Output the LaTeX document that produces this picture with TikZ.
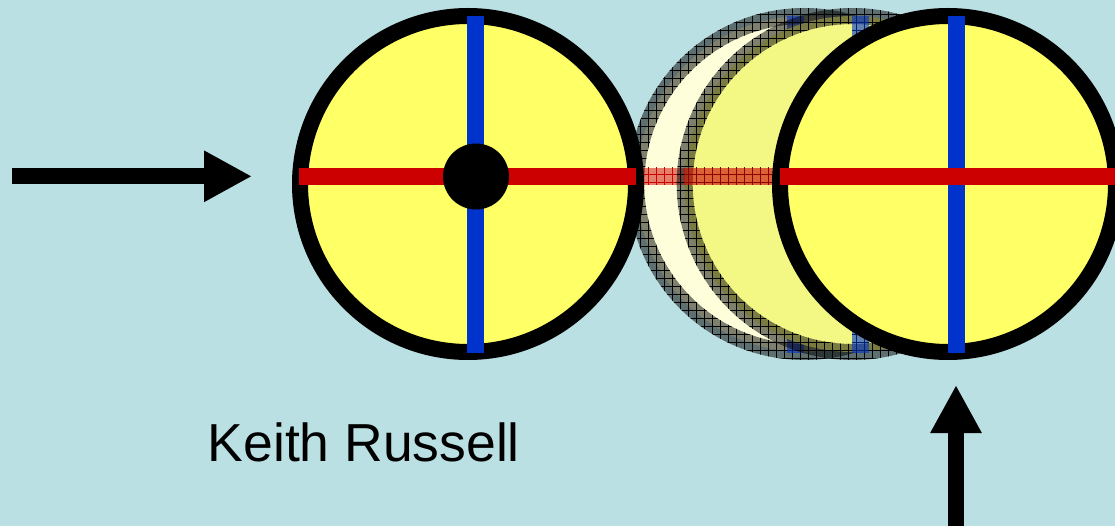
\documentclass[tikz,border=0pt]{standalone}
\usepackage{fontspec}
\setmainfont{Liberation Sans}
\usetikzlibrary{arrows.meta,patterns.meta}
\definecolor{bg}{HTML}{BBE0E3}
\definecolor{wheelyellow}{HTML}{FFFF66}
\definecolor{axisblue}{HTML}{0033CC}
\definecolor{axisred}{HTML}{CC0000}
\definecolor{ghostpale}{HTML}{FEFFDA}
\definecolor{ghostyellow}{HTML}{F3F783}
\begin{document}
\begin{tikzpicture}[x=1pt,y=-1pt,
  rim/.style={draw=black,line width=16pt},
  ghostrim/.style={draw=black,draw opacity=0.5,line width=16pt},
  gridover/.style={pattern={Hatch[angle=0,distance=8pt,line width=0.8pt]},pattern color=#1},
  bigarrow/.style={line width=16pt,-{Triangle[length=48pt,width=48pt]}}]
\useasboundingbox (0,0) rectangle (1115,526);
\fill[bg] (0,0) rectangle (1115,526);
% ghost wheel 1
\coordinate (g1) at (804.3,184);
\fill[ghostpale] (g1) circle (168);
\draw[ghostrim] (g1) circle (168);
\fill[gridover=black,even odd rule] (g1) circle (176) (g1) circle (160);
\fill[axisblue,opacity=0.6] (787,15.7) rectangle (804,352.7);
\fill[gridover=axisblue!60!black] (787,15.7) rectangle (804,352.7);
\fill[axisred,opacity=0.5] (635.8,167.8) rectangle (972.8,184.8);
\fill[gridover=axisred] (635.8,167.8) rectangle (972.8,184.8);
% ghost wheel 2
\coordinate (g2) at (852.7,184);
\fill[ghostyellow] (g2) circle (168);
\draw[ghostrim] (g2) circle (168);
\fill[gridover=black,even odd rule] (g2) circle (176) (g2) circle (160);
\fill[axisblue,opacity=0.6] (852,15.7) rectangle (869,352.7);
\fill[gridover=axisblue!60!black] (852,15.7) rectangle (869,352.7);
\fill[axisred,opacity=0.6] (684.2,167.8) rectangle (1021.2,184.8);
\fill[gridover=axisred!70!black] (684.2,167.8) rectangle (1021.2,184.8);
% left wheel
\coordinate (w1) at (468,184);
\fill[wheelyellow] (w1) circle (168);
\draw[rim] (w1) circle (168);
\fill[axisblue] (467,15.7) rectangle (484,352.7);
\fill[axisred] (299,167.8) rectangle (636,184.8);
\fill[black] (476,176.5) circle (33);
% right wheel
\coordinate (w2) at (948,184);
\fill[wheelyellow] (w2) circle (168);
\draw[rim] (w2) circle (168);
\fill[axisblue] (948,15.7) rectangle (965,352.7);
\fill[axisred] (780,167.8) rectangle (1117,184.8);
% arrows
\coordinate (inS) at (12,176.3);
\coordinate (inE) at (252,176.3);
\draw[bigarrow] (inS) -- (inE);
\coordinate (upS) at (956,527);
\coordinate (upE) at (956,385);
\draw[bigarrow] (upS) -- (upE);
% author
\node[anchor=base west,inner sep=0pt,font=\fontsize{53.5}{60}\selectfont] (author) at (207.5,461.7) {Keith Russell};
\end{tikzpicture}
\end{document}
